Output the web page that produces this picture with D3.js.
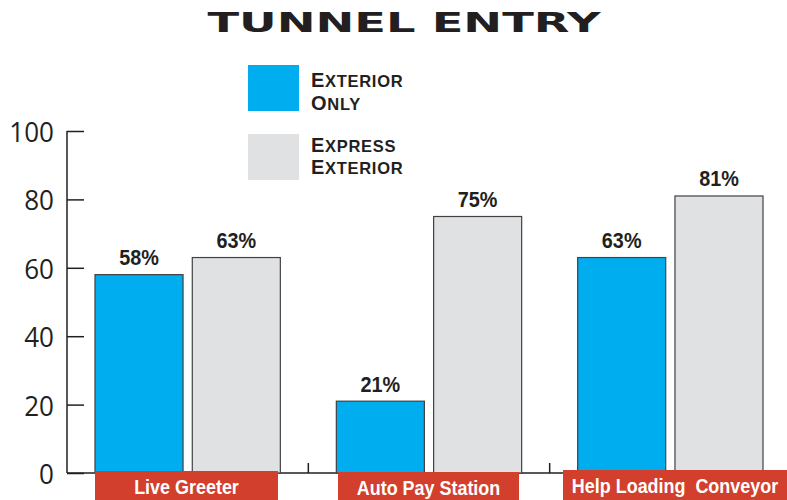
<!DOCTYPE html>
<html>
<head>
<meta charset="utf-8">
<script src="https://cdn.jsdelivr.net/npm/d3@7/dist/d3.min.js"></script>
<style>
  html, body { margin: 0; padding: 0; background: #fff; }
  svg { display: block; }
</style>
</head>
<body>
<svg id="chart" width="787" height="500"></svg>
<script>
// Tunnel entry survey: share of operators using each feature, by wash type
const categories = ["Live Greeter", "Auto Pay Station", "Help Loading  Conveyor"];
const seriesNames = ["Exterior Only", "Express Exterior"];
const exteriorOnly = [58, 21, 63];
const expressExterior = [63, 75, 81];
const yTicks = [0, 20, 40, 60, 80, 100];
const colors = ["#00aeef", "#e0e1e3"];

const svg = d3.select("#chart");
const W = 787, H = 500;
const ink = "#231f20";

const x0 = d3.scaleBand().domain(categories).range([67, 791]);
const x1 = d3.scaleBand().domain(seriesNames).range([28, x0.bandwidth() - 28]).paddingInner(0.095);
const y = d3.scaleLinear().domain([0, 100]).range([473, 131]);

// Squeeze a text element horizontally about its anchor (condensed face look)
function condense(sel, k) {
  sel.each(function () {
    const len = this.getComputedTextLength();
    d3.select(this).attr("textLength", len * k).attr("lengthAdjust", "spacingAndGlyphs");
  });
}

// Title
svg.append("text")
  .attr("x", 404).attr("y", 32)
  .attr("text-anchor", "middle")
  .attr("font-family", "'Arial Black', 'DejaVu Sans', sans-serif")
  .attr("font-weight", 900)
  .attr("font-size", 27)
  .attr("fill", ink)
  .attr("textLength", 393)
  .attr("lengthAdjust", "spacingAndGlyphs")
  .text("TUNNEL ENTRY");

// Y axis
const yAxis = d3.axisRight(y).tickValues(yTicks).tickSize(17).tickFormat("");
const gy = svg.append("g").attr("transform", "translate(67,0)").call(yAxis);
gy.select(".domain").attr("stroke", ink).attr("stroke-width", 1.5).attr("d", `M0,${y(100)}V${y(0)}`);
gy.selectAll(".tick line").attr("stroke", ink).attr("stroke-width", 1.5);

svg.append("g").selectAll("text").data(yTicks).join("text")
  .attr("x", 54).attr("y", d => y(d) + 11)
  .attr("text-anchor", "end")
  .attr("font-family", "'Open Sans', 'Noto Sans', sans-serif")
  .attr("font-size", 28)
  .attr("fill", ink)
  .text(d => d)
  .call(condense, 0.93);

// X axis baseline with category dividers
svg.append("line")
  .attr("x1", 67).attr("x2", 787)
  .attr("y1", y(0)).attr("y2", y(0))
  .attr("stroke", ink).attr("stroke-width", 1.5);
svg.append("g").selectAll("line").data(categories.slice(1)).join("line")
  .attr("x1", d => x0(d)).attr("x2", d => x0(d))
  .attr("y1", y(0)).attr("y2", y(0) - 10)
  .attr("stroke", ink).attr("stroke-width", 1.5);

// Bars
const rows = categories.map((c, i) => ({ cat: c, values: [exteriorOnly[i], expressExterior[i]] }));
const groups = svg.append("g").selectAll("g").data(rows).join("g")
  .attr("transform", d => `translate(${x0(d.cat)},0)`);

const cells = d => d.values.map((v, j) => ({ key: seriesNames[j], v, j }));

groups.selectAll("rect").data(cells).join("rect")
  .attr("x", d => x1(d.key))
  .attr("width", x1.bandwidth())
  .attr("y", d => y(d.v))
  .attr("height", d => y(0) - y(d.v))
  .attr("fill", d => colors[d.j])
  .attr("stroke", "#414042")
  .attr("stroke-width", 1.2);

groups.selectAll("text.val").data(cells).join("text")
  .attr("class", "val")
  .attr("x", d => x1(d.key) + x1.bandwidth() / 2)
  .attr("y", d => y(d.v) - 9.5)
  .attr("text-anchor", "middle")
  .attr("font-family", "'Liberation Sans', Arial, sans-serif")
  .attr("font-weight", "bold")
  .attr("font-size", 22)
  .attr("fill", ink)
  .text(d => d.v + "%")
  .call(condense, 0.9);

// Category labels on red tabs (condensed via a horizontal squeeze)
const tabs = [
  { x: 95, w: 183, y: 471 },
  { x: 338, w: 181, y: 472 },
  { x: 563, w: 224, y: 470 }
];
const squeeze = 0.855;
const tabG = svg.append("g").selectAll("g").data(categories).join("g");
tabG.append("rect")
  .attr("x", (d, i) => tabs[i].x)
  .attr("y", (d, i) => tabs[i].y)
  .attr("width", (d, i) => tabs[i].w)
  .attr("height", (d, i) => H - tabs[i].y)
  .attr("fill", "#d2402d");
tabG.append("g")
  .attr("transform", (d, i) => `translate(${tabs[i].x + tabs[i].w / 2},${tabs[i].y + 22.5}) scale(${squeeze},1)`)
  .append("text")
  .attr("text-anchor", "middle")
  .attr("font-family", "'Liberation Sans', Arial, sans-serif")
  .attr("font-weight", "bold")
  .attr("font-size", 21)
  .attr("fill", "#fff")
  .style("white-space", "pre")
  .text(d => d);

// Legend: swatches plus two-line small-caps labels
const legendItems = [
  { lines: ["Exterior", "Only"], y: 65, base: 87 },
  { lines: ["Express", "Exterior"], y: 134, base: 151.5 }
];
svg.append("g").selectAll("rect").data(legendItems).join("rect")
  .attr("x", 248).attr("y", d => d.y)
  .attr("width", 51).attr("height", 46)
  .attr("fill", (d, i) => colors[i]);
legendItems.forEach(item => {
  item.lines.forEach((ln, k) => {
    const t = svg.append("text")
      .attr("x", 311).attr("y", item.base + k * 22.5)
      .attr("font-family", "'Liberation Sans', Arial, sans-serif")
      .attr("font-weight", "bold")
      .attr("fill", ink)
      .attr("letter-spacing", 0.7);
    t.append("tspan").attr("font-size", 20).text(ln[0].toUpperCase());
    t.append("tspan").attr("font-size", 16.5).text(ln.slice(1).toUpperCase());
  });
});
</script>
</body>
</html>
